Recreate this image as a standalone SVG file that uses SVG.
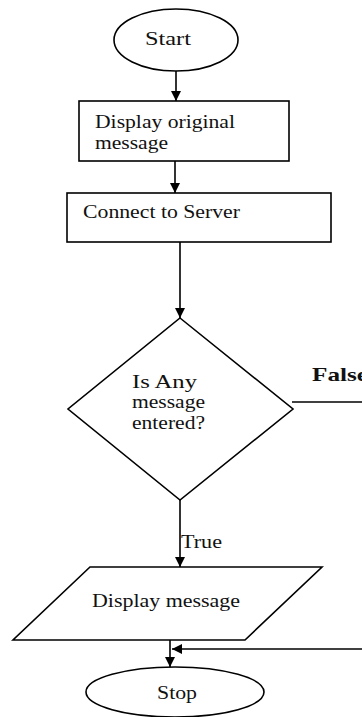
<svg xmlns="http://www.w3.org/2000/svg" width="362" height="717" viewBox="0 0 362 717">
<style>
.s{fill:#fff;stroke:#000;stroke-width:1.6}
.c{fill:none;stroke:#000;stroke-width:1.6}
text{font-family:"Liberation Serif","Times New Roman",serif;font-size:19.5px;fill:#111}
.b{font-weight:bold}
</style>
<defs>
<marker id="ah" viewBox="0 0 10 10" refX="10" refY="5" markerWidth="10" markerHeight="10" markerUnits="userSpaceOnUse" orient="auto">
<path d="M0,0 L10,5 L0,10 Z" fill="#000"/>
</marker>
</defs>
<rect width="362" height="717" fill="#fff"/>
<g id="connectors">
<line class="c" x1="176" y1="71" x2="176" y2="101" marker-end="url(#ah)"/>
<line class="c" x1="175" y1="161" x2="175" y2="193" marker-end="url(#ah)"/>
<line class="c" x1="180" y1="242" x2="180" y2="318" marker-end="url(#ah)"/>
<line class="c" x1="180" y1="500" x2="180" y2="567" marker-end="url(#ah)"/>
<line class="c" x1="292" y1="402" x2="362" y2="402"/>
<line class="c" x1="170" y1="640" x2="170" y2="667" marker-end="url(#ah)"/>
<line class="c" x1="362" y1="649" x2="172" y2="649" marker-end="url(#ah)"/>
<text class="b" x="312" y="381" textLength="56" lengthAdjust="spacingAndGlyphs">False</text>
<text x="181" y="548" textLength="41" lengthAdjust="spacingAndGlyphs">True</text>
</g>
<g id="start">
<ellipse class="s" cx="176" cy="40" rx="62" ry="31"/>
<text x="145" y="45" textLength="46" lengthAdjust="spacingAndGlyphs">Start</text>
</g>
<g id="display-original">
<rect class="s" x="79" y="101" width="210" height="60"/>
<text x="95" y="128" textLength="140" lengthAdjust="spacingAndGlyphs">Display original</text>
<text x="95" y="149" textLength="73" lengthAdjust="spacingAndGlyphs">message</text>
</g>
<g id="connect">
<rect class="s" x="67" y="193" width="264" height="49"/>
<text x="83" y="218" textLength="157" lengthAdjust="spacingAndGlyphs">Connect to Server</text>
</g>
<g id="decision">
<polygon class="s" points="180,318 293,409 180,500 68,409"/>
<text x="132" y="388" textLength="65" lengthAdjust="spacingAndGlyphs">Is Any</text>
<text x="132" y="408" textLength="73" lengthAdjust="spacingAndGlyphs">message</text>
<text x="132" y="429" textLength="73" lengthAdjust="spacingAndGlyphs">entered?</text>
</g>
<g id="display-message">
<polygon class="s" points="90,567 322,567 245,640 13,640"/>
<text x="92" y="607" textLength="148" lengthAdjust="spacingAndGlyphs">Display message</text>
</g>
<g id="stop">
<ellipse class="s" cx="175" cy="692" rx="89" ry="25"/>
<text x="157" y="699" textLength="40" lengthAdjust="spacingAndGlyphs">Stop</text>
</g>
</svg>
